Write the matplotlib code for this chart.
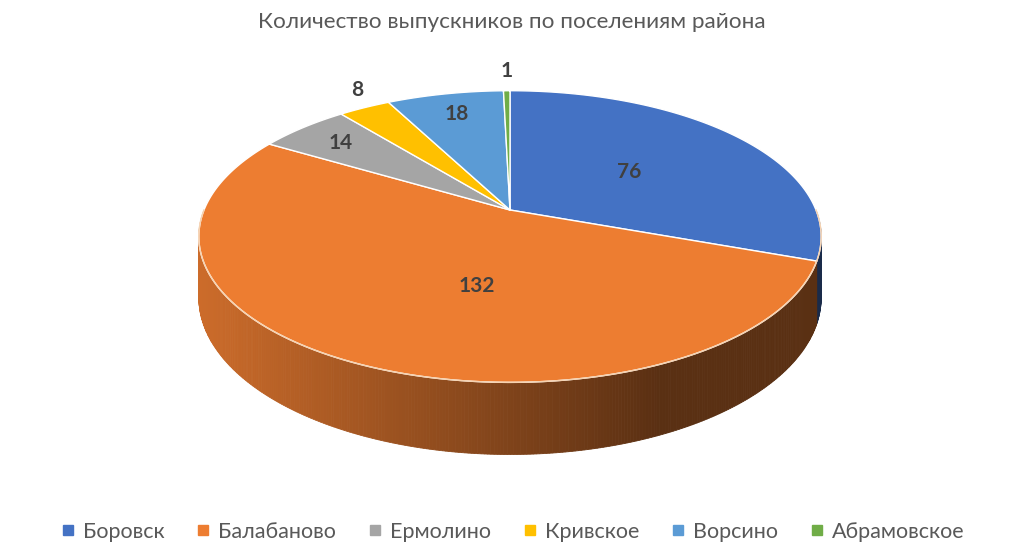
"""
3D-style pie chart: graduates by settlement of the district
"""

import matplotlib
matplotlib.use('Agg')
import matplotlib.pyplot as plt
from matplotlib.patches import Polygon
from matplotlib.lines import Line2D
import numpy as np

# Data
title = 'Количество выпускников по поселениям района'
settlements = ['Боровск', 'Балабаново', 'Ермолино', 'Кривское', 'Ворсино', 'Абрамовское']
graduates = [76, 132, 14, 8, 18, 1]
colors = ['#4472C4', '#ED7D31', '#A5A5A5', '#FFC000', '#5B9BD5', '#70AD47']
label_radius = [0.5, 0.5, 0.8, 1.17, 0.8, 1.2]
label_shift = [0, -14, 0, 3, 0, 0]   # degrees, nudges label along the rim

# Geometry of the tilted disk (pixel space)
CX, CY = 510, 210
RX, RY = 306, 141
K = -0.182        # perspective factor
DEPTH = 59

plt.rcParams['font.family'] = ['Lato', 'DejaVu Sans']


def project(r, theta_deg, drop=0.0):
    t = np.radians(theta_deg)
    u = r * np.sin(t)
    v = -r * np.cos(t)
    s = 1.0 / (1.0 + K * v)
    return CX + RX * u * s, CY + RY * v * s + drop * s


def side_shade(x):
    xn = np.clip((x - 200) / (660 - 200), 0, 1)
    return 0.86 - 0.48 * xn


fig = plt.figure(figsize=(10.24, 5.6), dpi=100)
ax = fig.add_axes([0, 0, 1, 1])
ax.set_xlim(0, 1024)
ax.set_ylim(560, 0)
ax.axis('off')

total = float(sum(graduates))
bounds = np.concatenate([[0], np.cumsum(graduates)]) / total * 360.0

# side wall (front half only, 90..270 deg)
for i, col in enumerate(colors):
    a0, a1 = max(bounds[i], 90), min(bounds[i + 1], 270)
    if a1 <= a0:
        continue
    steps = np.linspace(a0, a1, max(int((a1 - a0) * 2), 2) + 1)
    base = np.array(matplotlib.colors.to_rgb(col))
    for s0, s1 in zip(steps[:-1], steps[1:]):
        x0, y0 = project(1, s0)
        x1, y1 = project(1, s1)
        x0b, y0b = project(1, s0, DEPTH)
        x1b, y1b = project(1, s1, DEPTH)
        c = base * side_shade((x0 + x1) / 2)
        ax.add_patch(Polygon([(x0, y0), (x1, y1), (x1b, y1b), (x0b, y0b)],
                             closed=True, facecolor=c, edgecolor=c,
                             linewidth=0.6, zorder=1))

# top face wedges
for i, col in enumerate(colors):
    angs = np.linspace(bounds[i], bounds[i + 1], 200)
    xs, ys = project(1, angs)
    pts = [(CX, CY)] + list(zip(xs, ys))
    ax.add_patch(Polygon(pts, closed=True, facecolor=col, edgecolor='white',
                         linewidth=1.0, joinstyle='round', zorder=2))

# light highlight along front rim
angs = np.linspace(90, 270, 300)
xs, ys = project(1, angs)
ax.plot(xs, ys, color='#f6d2b0', linewidth=1.0, zorder=3)

# data labels
for i, val in enumerate(graduates):
    mid = (bounds[i] + bounds[i + 1]) / 2 + label_shift[i]
    lx, ly = project(label_radius[i], mid)
    ax.text(lx, ly, str(val), ha='center', va='center', fontsize=15,
            fontweight='bold', color='#404040', zorder=4)

fig.text(0.5, 1 - 22 / 560, title, ha='center', va='center',
         fontsize=16.2, color='#595959')

handles = [Line2D([0], [0], marker='s', linestyle='none', markersize=7.5,
                  markerfacecolor=c, markeredgecolor=c) for c in colors]
fig.legend(handles, settlements, loc='center', bbox_to_anchor=(0.5, 1 - 532 / 560),
           ncol=6, frameon=False, fontsize=15.5, labelcolor='#595959',
           handletextpad=0.3, columnspacing=1.4, handlelength=0.8)

plt.savefig('out.png', dpi=100)
plt.close()
